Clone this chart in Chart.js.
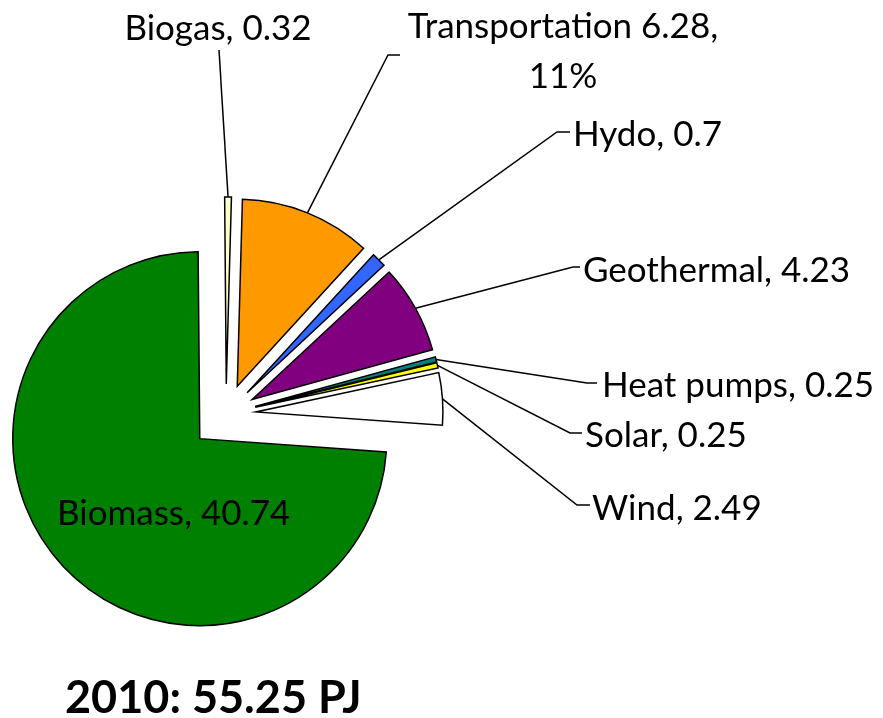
<!DOCTYPE html>
<html>
<head>
<meta charset="utf-8">
<script src="https://cdn.jsdelivr.net/npm/chart.js@4.4.0/dist/chart.umd.min.js"></script>
<style>
  body { margin: 0; background: #fff; }
</style>
</head>
<body>
<canvas id="energyChart" width="883" height="718"></canvas>
<script>
var labels = ["Biogas", "Transportation", "Hydo", "Geothermal", "Heat pumps", "Solar", "Wind", "Biomass"];
var values = [0.32, 6.28, 0.7, 4.23, 0.25, 0.25, 2.49, 40.74];
var colors = ["#FFFFCC", "#FF9900", "#3366FF", "#800080", "#008080", "#FFFF00", "#FFFFFF", "#008000"];
var titleText = "2010: 55.25 PJ";

// how far each slice is pulled out of the pie (px)
var explodeBy = [30, 30, 30, 30, 30, 30, 30, 36];

// label placement: elbow of leader line, end of leader, text anchor
var labelSpots = [
  { ex: 219, ey: 50, lx: 219, ly: 50, tx: 218, ty: 40, align: "center" },
  { ex: 388, ey: 55, lx: 400, ly: 55, tx: 563, ty: 38, align: "center" },
  { ex: 557, ey: 132, lx: 570, ly: 132, tx: 573, ty: 146, align: "left" },
  { ex: 573, ey: 267, lx: 580, ly: 267, tx: 583, ty: 282, align: "left" },
  { ex: 587, ey: 383, lx: 597, ly: 383, tx: 602, ty: 397, align: "left" },
  { ex: 570, ey: 433, lx: 582, ly: 433, tx: 585, ty: 447, align: "left" },
  { ex: 577, ey: 505, lx: 590, ly: 505, tx: 592, ty: 520, align: "left" },
  { tx: 57, ty: 525, align: "left" }
];

var total = 0;
for (var i = 0; i < values.length; i++) {
  total += values[i];
}

function labelLines(i) {
  if (labels[i] === "Transportation") {
    return [labels[i] + " " + values[i] + ",", Math.round(values[i] / total * 100) + "%"];
  }
  return [labels[i] + ", " + values[i]];
}

var explodePlugin = {
  id: "explode",
  beforeDatasetDraw: function (chart, args) {
    var ctx = chart.ctx;
    args.meta.data.forEach(function (arc, i) {
      var p = arc.getProps(["startAngle", "endAngle"]);
      var mid = (p.startAngle + p.endAngle) / 2;
      ctx.save();
      ctx.translate(Math.cos(mid) * explodeBy[i], Math.sin(mid) * explodeBy[i]);
      arc.draw(ctx, chart.chartArea);
      ctx.restore();
    });
    return false;
  },
  afterDatasetsDraw: function (chart) {
    var ctx = chart.ctx;
    var arcs = chart.getDatasetMeta(0).data;
    ctx.save();
    ctx.strokeStyle = "#000";
    ctx.lineWidth = 1.5;
    ctx.fillStyle = "#000";
    ctx.font = "35px Lato";
    ctx.textBaseline = "alphabetic";
    arcs.forEach(function (arc, i) {
      var spot = labelSpots[i];
      var p = arc.getProps(["x", "y", "startAngle", "endAngle", "outerRadius"]);
      var mid = (p.startAngle + p.endAngle) / 2;
      if (spot.ex !== undefined) {
        var r = p.outerRadius + explodeBy[i];
        ctx.beginPath();
        ctx.moveTo(p.x + Math.cos(mid) * r, p.y + Math.sin(mid) * r);
        ctx.lineTo(spot.ex, spot.ey);
        ctx.lineTo(spot.lx, spot.ly);
        ctx.stroke();
      }
      ctx.textAlign = spot.align;
      var lines = labelLines(i);
      for (var k = 0; k < lines.length; k++) {
        ctx.fillText(lines[k], spot.tx, spot.ty + k * 50);
      }
    });
    ctx.font = "bold 45px Lato";
    ctx.textAlign = "left";
    ctx.fillText(titleText, 65, 713);
    ctx.restore();
  }
};

var ctx = document.getElementById("energyChart").getContext("2d");
var myChart = new Chart(ctx, {
  type: "pie",
  data: {
    labels: labels,
    datasets: [
      {
        data: values,
        backgroundColor: colors,
        borderColor: "#000000",
        borderWidth: 1.5,
        borderJoinStyle: "miter",
        radius: 187,
      },
    ],
  },
  options: {
    responsive: false,
    animation: false,
    rotation: -0.5,
    layout: {
      padding: { left: 0, right: 431, top: 110, bottom: 0 },
    },
    plugins: {
      legend: { display: false },
      tooltip: { enabled: false },
    },
  },
  plugins: [explodePlugin],
});
</script>
</body>
</html>
